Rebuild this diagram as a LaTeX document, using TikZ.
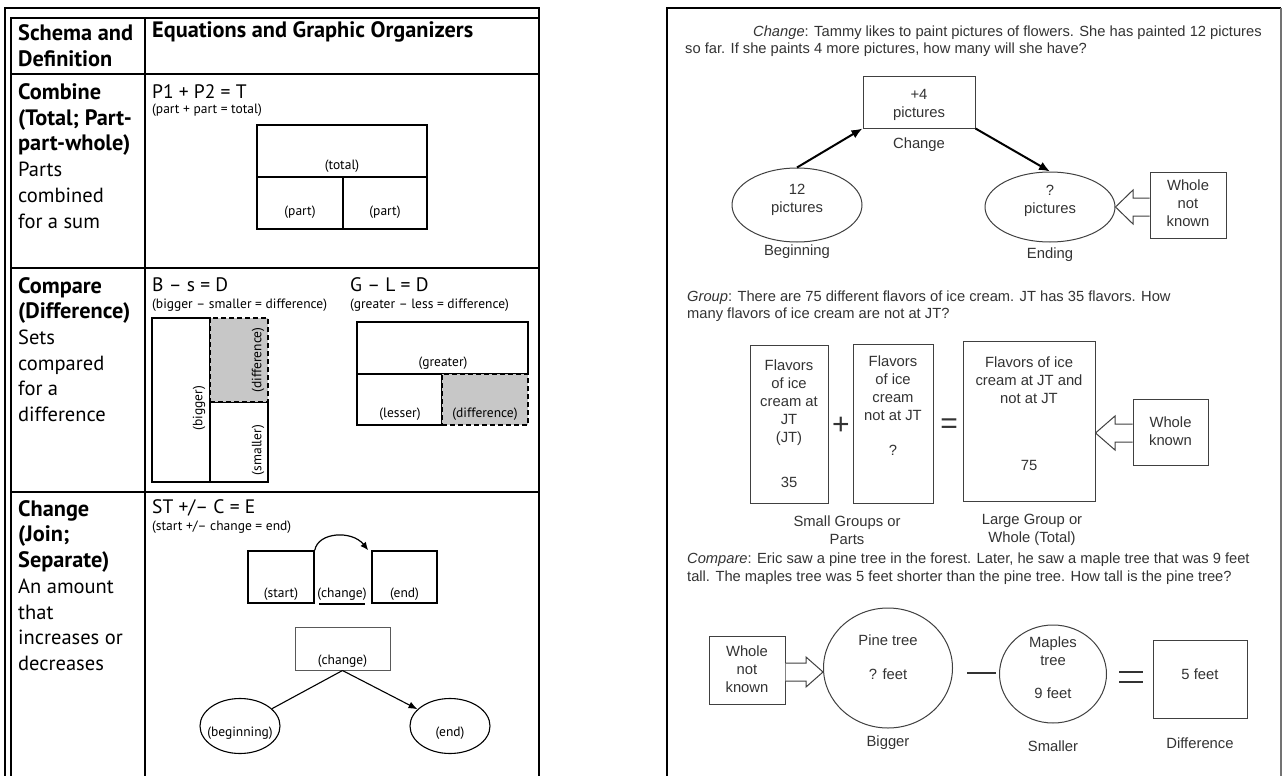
\documentclass[tikz,border=0pt]{standalone}
\usepackage{fontspec}
\setmainfont{PT Sans}
\newfontfamily\arialf{Liberation Sans}
\usetikzlibrary{arrows.meta,calc,shapes.geometric}
\newcommand\bbf[1]{{\fontsize{22.3}{25.7}\selectfont\bfseries #1}}
\begin{document}
\begin{tikzpicture}[x=1pt,y=-1pt,
 tline/.style={line width=2pt},
 lt/.style={font=\fontsize{20.5}{25.7}\selectfont, align=left, anchor=west, inner sep=0pt},
 eqn/.style={font=\fontsize{19.5}{22}\selectfont, anchor=west, inner sep=0pt},
 sub/.style={font=\fontsize{13.5}{15}\selectfont, anchor=west, inner sep=0pt},
 lab/.style={font=\fontsize{13.5}{15}\selectfont, inner sep=0pt},
 lbox/.style={draw, line width=1.3pt, inner sep=0pt},
 dbox/.style={draw, line width=1.6pt, dash pattern=on 5pt off 3pt, fill=black!22, inner sep=0pt},
 lell/.style={ellipse, draw, line width=1.1pt, inner sep=0pt},
 rt/.style={font=\arialf\fontsize{14.8}{18}\selectfont, text=black!80, inner sep=0pt, align=center},
 para/.style={rt, font=\arialf\fontsize{14.7}{18}\selectfont, anchor=west},
 rbox/.style={draw=black!75, line width=1pt, inner sep=0pt},
 rell/.style={ellipse, draw=black!75, line width=1pt, inner sep=0pt},
 barrow/.style={draw=black!75, line width=1pt, fill=white},
 bigarrow/.style={line width=2pt, -{Latex[length=11pt,width=9pt]}},
 sym/.style={font=\arialf\fontsize{30}{30}\selectfont, text=black!80, inner sep=0pt},
]
\useasboundingbox (0,0) rectangle (1283,776);
\fill[white] (0,0) rectangle (1283,776);

% ---------- left table ----------
\draw[tline] (5,776) -- (5,8) -- (539,8) -- (539,776);
\draw[tline] (11,776) -- (11,18) -- (539,18);
\draw[tline] (145,18) -- (145,776);
\draw[tline] (11,74) -- (539,74);
\draw[tline] (11,268) -- (539,268);
\draw[tline] (11,492) -- (539,492);

\node[lt] (h1) at (18,46) {\bbf{Schema and}\\\bbf{Definition}};
\node[lt] (h2) at (152,32) {\bbf{Equations and Graphic Organizers}};
\node[lt] (d1) at (18,156) {\bbf{Combine}\\\bbf{(Total; Part-}\\\bbf{part-whole)}\\Parts\\combined\\for a sum};
\node[lt] (d2) at (18,349.5) {\bbf{Compare}\\\bbf{(Difference)}\\Sets\\compared\\for a\\difference};
\node[lt] (d3) at (18,585.5) {\bbf{Change}\\\bbf{(Join;}\\\bbf{Separate)}\\An amount\\that\\increases or\\decreases};

\node[eqn] (e1) at (152,92) {P1 + P2 = T};
\node[sub] (s1) at (152,110) {(part + part = total)};
\node[eqn] (e2) at (152,285) {B – s = D};
\node[sub] (s2) at (152,305) {(bigger – smaller = difference)};
\node[eqn] (e3) at (350,285) {G – L = D};
\node[sub] (s3) at (350,305) {(greater – less = difference)};
\node[eqn] (e4) at (152,508) {ST +/– C = E};
\node[sub] (s4) at (152,527) {(start +/– change = end)};

% combine
\node[lbox, minimum width=170pt, minimum height=52pt] (tot) at (342,151) {};
\node[lbox, minimum width=86pt, minimum height=52pt] (pa) at (300,203) {};
\node[lbox, minimum width=84pt, minimum height=52pt] (pb) at (385,203) {};
\node[lab] (totl) at (342,166) {(total)};
\node[lab] (pal) at (300,212) {(part)};
\node[lab] (pbl) at (385,212) {(part)};

% compare (bigger/smaller)
\node[lbox, line width=1.1pt, minimum width=58pt, minimum height=164pt] (big) at (181,400) {};
\node[lbox, line width=1.1pt, minimum width=58pt, minimum height=80pt] (sml) at (239,442) {};
\node[dbox, minimum width=58pt, minimum height=84pt] (dif1) at (239,360) {};
\node[lab, rotate=90] (bigl) at (199,408) {(bigger)};
\node[lab, rotate=90] (difl1) at (258,360) {(difference)};
\node[lab, rotate=90] (smll) at (258,450) {(smaller)};

% compare (greater/lesser)
\node[lbox, minimum width=171pt, minimum height=52pt] (grt) at (442.5,348) {};
\node[lbox, minimum width=85pt, minimum height=51pt] (les) at (399.5,399.5) {};
\node[dbox, minimum width=86pt, minimum height=51pt] (dif2) at (485,399.5) {};
\node[lab] (grtl) at (443,363) {(greater)};
\node[lab] (lesl) at (400,414) {(lesser)};
\node[lab] (difl2) at (485,414) {(difference)};

% change
\node[lbox, line width=1.6pt, minimum width=66pt, minimum height=52pt] (st) at (281,577) {};
\node[lbox, line width=1.6pt, minimum width=65pt, minimum height=52pt] (en) at (404.5,577) {};
\node[lab] (stl) at (281,594) {(start)};
\node[lab] (chl) at (342,594) {(change)};
\node[lab] (enl) at (404.5,594) {(end)};
\coordinate (u1) at (319,604);
\coordinate (u2) at (365,604);
\draw[line width=1.8pt] (u1) -- (u2);
\draw[line width=1.2pt, -{Latex[length=8pt,width=7pt]}] (st.north east) .. controls (318,532) and (352,530) .. ([xshift=-3pt]en.north west);

\node[draw=black!65, line width=1pt, minimum width=95pt, minimum height=43pt, inner sep=0pt] (cb) at (342.5,648.5) {};
\node[lab] (cbl) at (342.5,661) {(change)};
\node[lell, minimum width=80pt, minimum height=55pt] (bg) at (240,726) {};
\node[lell, minimum width=80pt, minimum height=55pt] (ee) at (450,726) {};
\node[lab] (bgl) at (240,733) {(beginning)};
\node[lab] (eel) at (450,733) {(end)};
\draw[line width=1.1pt] (cb.south) -- (bg);
\draw[line width=1.1pt, -{Latex[length=9pt,width=7pt]}] (cb.south) -- (ee);

% ---------- right panel ----------
\draw[line width=2pt] (667,776) -- (667,8) -- (1281,8);
\draw[line width=1.5pt, black!55] (1281,8) -- (1281,776);

\node[para] (p1a) at (753,33) {\textit{Change}: Tammy likes to paint pictures of flowers. She has painted 12 pictures};
\node[para] (p1b) at (685,50) {so far. If she paints 4 more pictures, how many will she have?};

\node[rbox, minimum width=112pt, minimum height=51pt] (chB) at (919,102.5) {};
\node[rt] (chBt) at (919,104.5) {+4\\pictures};
\node[rt] (chBl) at (919,145) {Change};
\node[rell, minimum width=130pt, minimum height=74pt] (begE) at (797,205) {};
\node[rt] (begT) at (797,200) {12\\pictures};
\node[rt] (begL) at (797,252) {Beginning};
\node[rell, minimum width=130pt, minimum height=70pt] (endE) at (1050,207) {};
\node[rt] (endT) at (1050,201) {?\\pictures};
\node[rt] (endL) at (1050,255) {Ending};
\draw[bigarrow] (begE.north) -- (chB.south west);
\draw[bigarrow] (chB.south east) -- (endE.north);
\node[rbox, minimum width=76pt, minimum height=66pt] (wnk1) at (1188,205) {};
\node[rt] (wnk1t) at (1188,203.5) {Whole\\not\\known};
\draw[barrow] (wnk1.west |- 0,198) -- (1133,198) -- (1133,190) -- (endE.east) -- (1133,224) -- (1133,216) -- (wnk1.west |- 0,216);

\node[para] (p2a) at (687,298) {\textit{Group}: There are 75 different flavors of ice cream. JT has 35 flavors. How};
\node[para] (p2b) at (687,315) {many flavors of ice cream are not at JT?};

\node[rbox, minimum width=78pt, minimum height=158pt] (g1) at (789,424) {};
\node[rt] (g1t) at (789,403) {Flavors\\of ice\\cream at\\JT\\(JT)};
\node[rt] (g1n) at (789,482) {35};
\node[sym] (plus) at (841,426) {+};
\node[rbox, minimum width=80pt, minimum height=159pt] (g2) at (893,423.5) {};
\node[rt] (g2t) at (893,388.5) {Flavors\\of ice\\cream\\not at JT};
\node[rt] (g2n) at (893,450) {?};
\node[sym] (eq1) at (949,426) {=};
\node[rbox, minimum width=132pt, minimum height=160pt] (g3) at (1029,421) {};
\node[rt] (g3t) at (1029,380) {Flavors of ice\\cream at JT and\\not at JT};
\node[rt] (g3n) at (1029,465) {75};
\node[rbox, minimum width=75pt, minimum height=66pt] (wnk2) at (1170.5,432) {};
\node[rt] (wnk2t) at (1170.5,431) {Whole\\known};
\draw[barrow] (wnk2.west |- 0,424) -- (1115,424) -- (1115,416) -- (g3.east |- 0,433) -- (1115,450) -- (1115,442) -- (wnk2.west |- 0,442);
\node[rt] (sgp) at (847,530) {Small Groups or\\Parts};
\node[rt] (lgw) at (1032,530) {Large Group or\\Whole (Total)};

\node[para] (p3a) at (687,560) {\textit{Compare}: Eric saw a pine tree in the forest. Later, he saw a maple tree that was 9 feet};
\node[para] (p3b) at (687,578) {tall. The maples tree was 5 feet shorter than the pine tree. How tall is the pine tree?};

\node[rbox, minimum width=76pt, minimum height=68pt] (wnk3) at (747,670) {};
\node[rt] (wnk3t) at (747,669.5) {Whole\\not\\known};
\node[rell, minimum width=129pt, minimum height=120pt] (pine) at (888,668) {};
\node[rt] (pinet) at (888,640) {Pine tree};
\node[rt] (pinef) at (888,674) {? feet};
\node[rt] (pinel) at (888,743) {Bigger};
\draw[barrow] (wnk3.east |- 0,663) -- (806,663) -- (806,657) -- (pine.west |- 0,672) -- (806,687) -- (806,681) -- (wnk3.east |- 0,681);
\coordinate (m1) at (967,673);
\coordinate (m2) at (996,673);
\draw[line width=2.2pt, black!80] (m1) -- (m2);
\node[rell, minimum width=107pt, minimum height=98pt] (mapl) at (1053,674) {};
\node[rt] (maplt) at (1053,651) {Maples\\tree};
\node[rt] (maplf) at (1053,693) {9 feet};
\node[rt] (mapll) at (1053,746) {Smaller};
\coordinate (q1) at (1119,672);
\coordinate (q2) at (1143,672);
\coordinate (q3) at (1119,682);
\coordinate (q4) at (1143,682);
\draw[line width=2.2pt, black!80] (q1) -- (q2);
\draw[line width=2.2pt, black!80] (q3) -- (q4);
\node[rbox, minimum width=94pt, minimum height=78pt] (fiv) at (1200,679) {};
\node[rt] (fivt) at (1200,674) {5 feet};
\node[rt] (fivl) at (1200,743) {Difference};
\end{tikzpicture}
\end{document}
